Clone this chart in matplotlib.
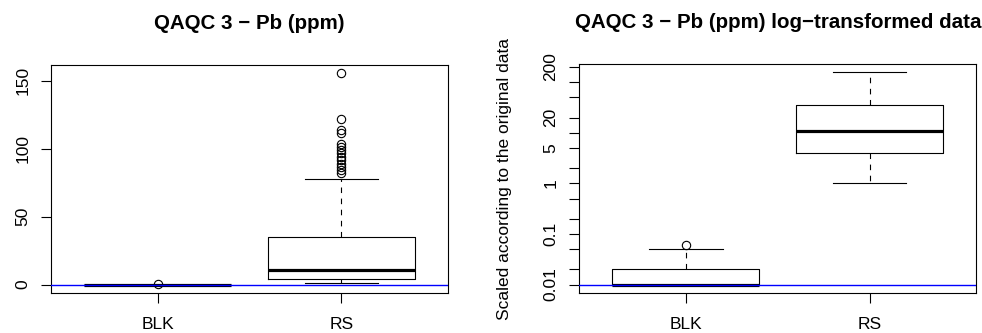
import numpy as np
import matplotlib
matplotlib.use("Agg")
import matplotlib.pyplot as plt

plt.rcParams['font.family'] = ['Liberation Sans', 'DejaVu Sans']

# Pb (ppm) summary statistics per sample type
grupos = ['BLK', 'RS']
limite_deteccion = 0.01

blk_min, blk_q1, blk_med, blk_q3, blk_whi = 0.01, 0.01, 0.01, 0.02, 0.05
blk_atipicos = [0.06]

rs_min, rs_q1, rs_med, rs_q3, rs_whi = 1.0, 3.8, 11.0, 35.0, 78.0
rs_atipicos = [82, 84, 86.5, 89, 91.5, 94, 96.5, 99, 101.3, 103.3,
               111.2, 113.6, 122.2, 155.4]
rs_max = max(rs_atipicos)

# Cuartiles en escala logaritmica (sin atipicos en RS)
rs_log_q1, rs_log_med, rs_log_q3 = 3.9, 11.0, 35.0

ticks_lin = [0, 50, 100, 150]
ticks_log = [0.01, 0.02, 0.05, 0.1, 0.2, 0.5, 1, 2, 5, 10, 20, 50, 100, 200]
etiquetas_log = ['0.01', '', '', '0.1', '', '', '1', '', '5', '', '20', '', '', '200']


def stats(nombre, lo, q1, med, q3, hi, fl):
    return dict(label=nombre, whislo=lo, q1=q1, med=med, q3=q3, whishi=hi, fliers=fl)


datos_lin = [stats('BLK', blk_min, blk_q1, blk_med, blk_q3, blk_whi, blk_atipicos),
             stats('RS', rs_min, rs_q1, rs_med, rs_q3, rs_whi, rs_atipicos)]
datos_log = [stats('BLK', blk_min, blk_q1, blk_med, blk_q3, blk_whi, blk_atipicos),
             stats('RS', rs_min, rs_log_q1, rs_log_med, rs_log_q3, rs_max, [])]

fig = plt.figure(figsize=(9.82, 3.33), dpi=100)
ax1 = fig.add_axes([0.0519, 0.1201, 0.4043, 0.6847])
ax2 = fig.add_axes([0.5899, 0.1201, 0.4043, 0.6877])

lw = 0.8
estilo = dict(
    positions=[1, 2], widths=0.8, capwidths=0.4,
    boxprops=dict(color='black', linewidth=lw),
    medianprops=dict(color='black', linewidth=2.3, solid_capstyle='butt'),
    whiskerprops=dict(color='black', linewidth=lw, linestyle=(0, (5, 5))),
    capprops=dict(color='black', linewidth=lw),
    flierprops=dict(marker='o', markerfacecolor='none', markeredgecolor='black',
                    markersize=6, markeredgewidth=lw),
)

for ax, datos in ((ax1, datos_lin), (ax2, datos_log)):
    ax.bxp(datos, **estilo)
    ax.axhline(limite_deteccion, color='#0000ff', linewidth=1.0, zorder=5)
    ax.set_xlim(0.42, 2.58)
    ax.set_xticks([1, 2])
    ax.set_xticklabels(grupos)
    ax.tick_params(axis='x', length=7.5, width=lw, labelsize=12.5, pad=9.5)
    ax.tick_params(axis='y', length=7.5, width=lw, labelsize=12.5, pad=7.5,
                   labelrotation=90)
    for s in ax.spines.values():
        s.set_linewidth(lw)

# Eje lineal con la extension de 4% al estilo R
lo, hi = limite_deteccion, rs_max
ext = 0.04 * (hi - lo)
ax1.set_ylim(lo - ext, hi + ext)
ax1.set_yticks(ticks_lin)
ax1.set_yticklabels([str(t) for t in ticks_lin], va='center')
ax1.set_title('QAQC 3 − Pb (ppm)', fontsize=14.8, fontweight='bold', pad=26)

ax2.set_yscale('log')
llo, lhi = np.log10(limite_deteccion), np.log10(rs_max)
lext = 0.04 * (lhi - llo)
ax2.set_ylim(10 ** (llo - lext), 10 ** (lhi + lext))
ax2.set_yticks(ticks_log)
ax2.set_yticklabels(etiquetas_log, va='center')
ax2.minorticks_off()
ax2.set_ylabel('Scaled according to the original data', fontsize=12.5)
ax2.yaxis.set_label_coords(-0.17, 0.5)
ax2.set_title('QAQC 3 − Pb (ppm) log−transformed data', fontsize=14.8,
              fontweight='bold', pad=26)

fig.savefig('out.png', dpi=100)
